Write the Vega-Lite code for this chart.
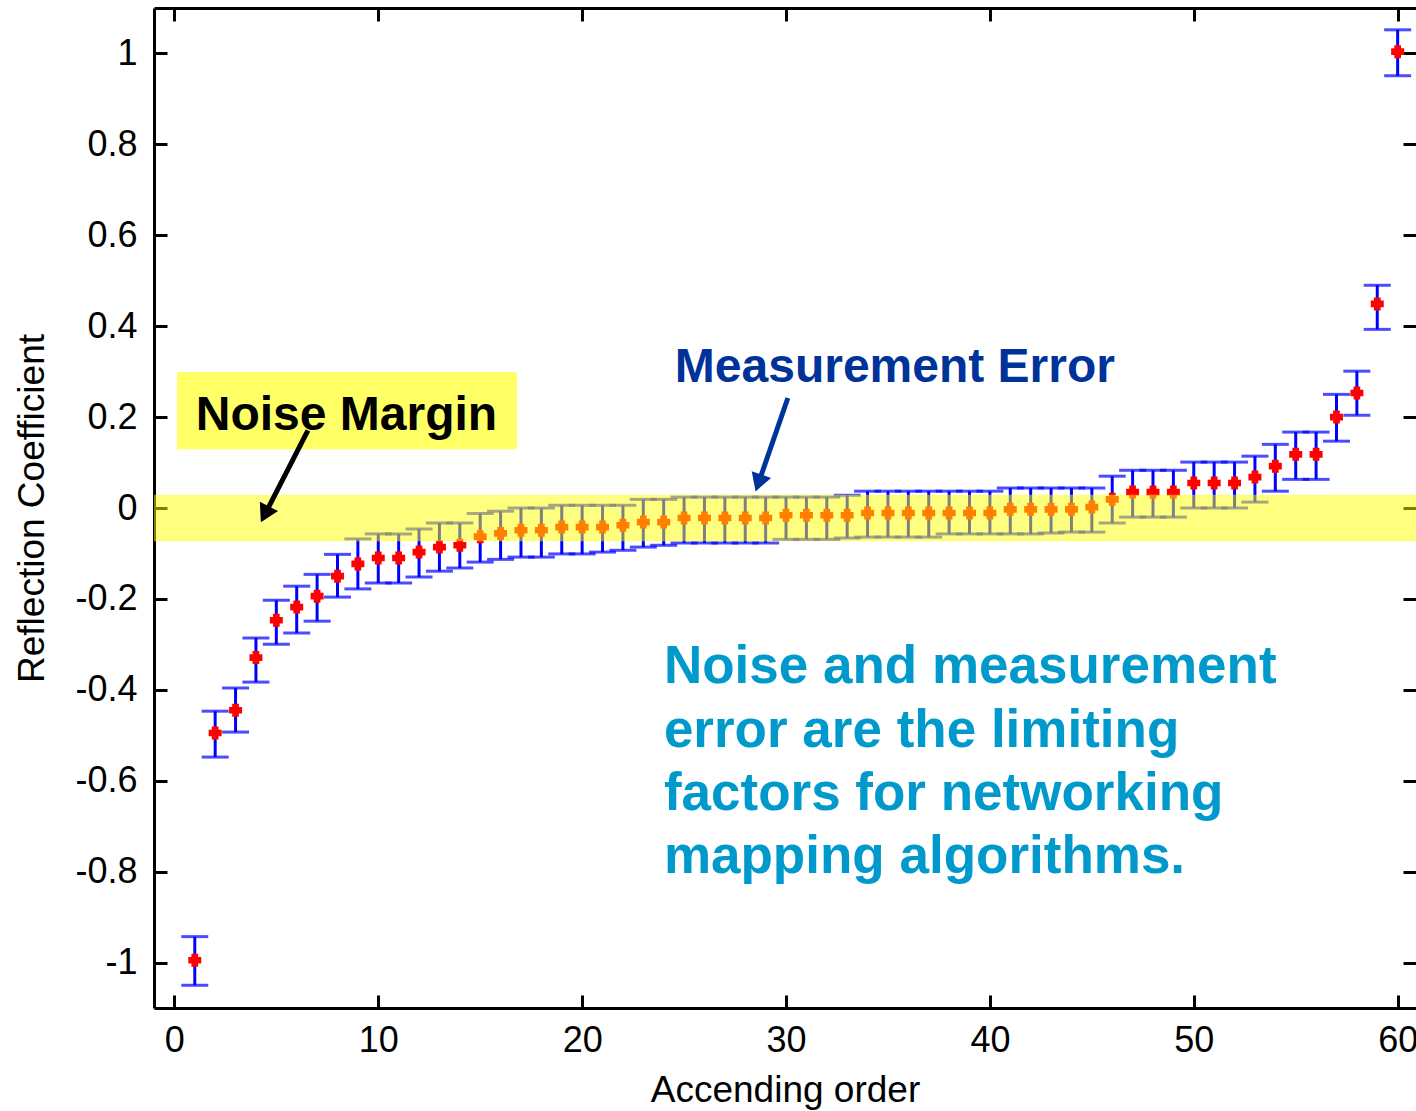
{
  "$schema": "https://vega.github.io/schema/vega-lite/v6.json",
  "width": 1262,
  "height": 1000,
  "autosize": {"type": "none"},
  "padding": {"left": 154, "top": 8, "right": 0, "bottom": 103},
  "background": "white",
  "config": {
    "view": {"stroke": null},
    "font": "Liberation Sans",
    "axis": {
      "domainColor": "black", "domainWidth": 3, "tickColor": "black", "tickWidth": 3,
      "tickSize": -13, "grid": false, "labelColor": "black", "labelFontSize": 36,
      "labelFont": "Liberation Sans", "titleFont": "Liberation Sans", "titleFontWeight": "normal",
      "titleFontSize": 37, "titleColor": "black"
    }
  },
  "data": {"values": [
    {"x": 1, "y": -0.995, "lo": -1.050, "hi": -0.943},
    {"x": 2, "y": -0.495, "lo": -0.548, "hi": -0.447},
    {"x": 3, "y": -0.445, "lo": -0.493, "hi": -0.396},
    {"x": 4, "y": -0.329, "lo": -0.383, "hi": -0.286},
    {"x": 5, "y": -0.247, "lo": -0.300, "hi": -0.203},
    {"x": 6, "y": -0.218, "lo": -0.275, "hi": -0.172},
    {"x": 7, "y": -0.194, "lo": -0.249, "hi": -0.146},
    {"x": 8, "y": -0.150, "lo": -0.196, "hi": -0.102},
    {"x": 9, "y": -0.123, "lo": -0.178, "hi": -0.068},
    {"x": 10, "y": -0.110, "lo": -0.165, "hi": -0.057},
    {"x": 11, "y": -0.110, "lo": -0.165, "hi": -0.057},
    {"x": 12, "y": -0.097, "lo": -0.152, "hi": -0.046},
    {"x": 13, "y": -0.086, "lo": -0.139, "hi": -0.033},
    {"x": 14, "y": -0.082, "lo": -0.132, "hi": -0.033},
    {"x": 15, "y": -0.063, "lo": -0.119, "hi": -0.012},
    {"x": 16, "y": -0.056, "lo": -0.113, "hi": -0.007},
    {"x": 17, "y": -0.049, "lo": -0.108, "hi": 0.000},
    {"x": 18, "y": -0.049, "lo": -0.108, "hi": 0.000},
    {"x": 19, "y": -0.042, "lo": -0.101, "hi": 0.006},
    {"x": 20, "y": -0.042, "lo": -0.101, "hi": 0.006},
    {"x": 21, "y": -0.042, "lo": -0.097, "hi": 0.006},
    {"x": 22, "y": -0.038, "lo": -0.093, "hi": 0.006},
    {"x": 23, "y": -0.031, "lo": -0.086, "hi": 0.019},
    {"x": 24, "y": -0.031, "lo": -0.082, "hi": 0.019},
    {"x": 25, "y": -0.022, "lo": -0.077, "hi": 0.024},
    {"x": 26, "y": -0.022, "lo": -0.077, "hi": 0.024},
    {"x": 27, "y": -0.022, "lo": -0.077, "hi": 0.024},
    {"x": 28, "y": -0.022, "lo": -0.077, "hi": 0.024},
    {"x": 29, "y": -0.022, "lo": -0.077, "hi": 0.024},
    {"x": 30, "y": -0.016, "lo": -0.069, "hi": 0.024},
    {"x": 31, "y": -0.016, "lo": -0.069, "hi": 0.024},
    {"x": 32, "y": -0.016, "lo": -0.069, "hi": 0.024},
    {"x": 33, "y": -0.016, "lo": -0.066, "hi": 0.028},
    {"x": 34, "y": -0.011, "lo": -0.064, "hi": 0.037},
    {"x": 35, "y": -0.011, "lo": -0.064, "hi": 0.037},
    {"x": 36, "y": -0.011, "lo": -0.064, "hi": 0.037},
    {"x": 37, "y": -0.011, "lo": -0.064, "hi": 0.037},
    {"x": 38, "y": -0.011, "lo": -0.057, "hi": 0.037},
    {"x": 39, "y": -0.011, "lo": -0.057, "hi": 0.037},
    {"x": 40, "y": -0.011, "lo": -0.057, "hi": 0.037},
    {"x": 41, "y": -0.003, "lo": -0.057, "hi": 0.044},
    {"x": 42, "y": -0.003, "lo": -0.057, "hi": 0.044},
    {"x": 43, "y": -0.003, "lo": -0.055, "hi": 0.044},
    {"x": 44, "y": -0.003, "lo": -0.053, "hi": 0.044},
    {"x": 45, "y": 0.002, "lo": -0.053, "hi": 0.044},
    {"x": 46, "y": 0.019, "lo": -0.033, "hi": 0.070},
    {"x": 47, "y": 0.035, "lo": -0.020, "hi": 0.083},
    {"x": 48, "y": 0.035, "lo": -0.020, "hi": 0.083},
    {"x": 49, "y": 0.035, "lo": -0.020, "hi": 0.083},
    {"x": 50, "y": 0.055, "lo": 0.000, "hi": 0.101},
    {"x": 51, "y": 0.055, "lo": 0.000, "hi": 0.101},
    {"x": 52, "y": 0.055, "lo": 0.000, "hi": 0.101},
    {"x": 53, "y": 0.068, "lo": 0.013, "hi": 0.114},
    {"x": 54, "y": 0.092, "lo": 0.037, "hi": 0.140},
    {"x": 55, "y": 0.118, "lo": 0.063, "hi": 0.167},
    {"x": 56, "y": 0.118, "lo": 0.063, "hi": 0.167},
    {"x": 57, "y": 0.200, "lo": 0.147, "hi": 0.250},
    {"x": 58, "y": 0.253, "lo": 0.204, "hi": 0.301},
    {"x": 59, "y": 0.449, "lo": 0.393, "hi": 0.490},
    {"x": 60, "y": 1.004, "lo": 0.951, "hi": 1.052}
  ]},
  "resolve": {"axis": {"x": "independent", "y": "independent"}},
  "layer": [
    {
      "mark": {"type": "rule", "color": "#0000FF", "strokeWidth": 3},
      "encoding": {
        "x": {"field": "x", "type": "quantitative",
          "scale": {"domain": [-1, 60.9], "nice": false, "zero": false},
          "axis": {"orient": "bottom", "title": "Accending order", "values": [0, 10, 20, 30, 40, 50, 60],
            "labelPadding": 28, "titlePadding": 14}},
        "y": {"field": "lo", "type": "quantitative",
          "scale": {"domain": [-1.1, 1.1], "nice": false, "zero": false},
          "axis": {"orient": "left", "title": "Reflection Coefficient",
            "values": [-1, -0.8, -0.6, -0.4, -0.2, 0, 0.2, 0.4, 0.6, 0.8, 1],
            "labelExpr": "replace(format(datum.value, '~g'), '\u2212', '-')", "labelPadding": 30, "titlePadding": 23}},
        "y2": {"field": "hi"}
      }
    },
    {
      "mark": {"type": "tick", "orient": "horizontal", "color": "#0000FF", "size": 27, "thickness": 3},
      "encoding": {
        "x": {"field": "x", "type": "quantitative", "axis": null},
        "y": {"field": "lo", "type": "quantitative", "axis": null}
      }
    },
    {
      "mark": {"type": "tick", "orient": "horizontal", "color": "#0000FF", "size": 27, "thickness": 3},
      "encoding": {
        "x": {"field": "x", "type": "quantitative", "axis": null},
        "y": {"field": "hi", "type": "quantitative", "axis": null}
      }
    },
    {
      "mark": {"type": "point", "shape": "cross", "filled": true, "color": "#FF0000", "stroke": "#FF0000", "strokeWidth": 2.5, "size": 110, "opacity": 1},
      "encoding": {
        "x": {"field": "x", "type": "quantitative",
          "axis": {"orient": "top", "labels": false, "title": null, "values": [0, 10, 20, 30, 40, 50, 60]}},
        "y": {"field": "y", "type": "quantitative",
          "axis": {"orient": "right", "labels": false, "title": null, "domain": false,
            "values": [-1, -0.8, -0.6, -0.4, -0.2, 0, 0.2, 0.4, 0.6, 0.8, 1]}}
      }
    },
    {
      "data": {"values": [{"lo": -0.073, "hi": 0.029}]},
      "mark": {"type": "rect", "color": "#FFFF00", "opacity": 0.5},
      "encoding": {
        "y": {"field": "lo", "type": "quantitative", "axis": null},
        "y2": {"field": "hi"}
      }
    },
    {
      "data": {"values": [{"x1": 0.13, "x2": 16.8, "y1": 0.129, "y2": 0.299}]},
      "mark": {"type": "rect", "color": "#FFFF66"},
      "encoding": {
        "x": {"field": "x1", "type": "quantitative", "axis": null},
        "x2": {"field": "x2"},
        "y": {"field": "y1", "type": "quantitative", "axis": null},
        "y2": {"field": "y2"}
      }
    },
    {
      "data": {"values": [{"x": 8.44, "y": 0.171, "label": "Noise Margin"}]},
      "mark": {"type": "text", "font": "Liberation Sans", "fontWeight": "bold", "fontSize": 48,
        "color": "black", "align": "center", "baseline": "alphabetic"},
      "encoding": {
        "x": {"field": "x", "type": "quantitative", "axis": null},
        "y": {"field": "y", "type": "quantitative", "axis": null},
        "text": {"field": "label"}
      }
    },
    {
      "data": {"values": [{"x1": 6.55, "y1": 0.171, "x2": 4.44, "y2": -0.014}]},
      "mark": {"type": "rule", "color": "black", "strokeWidth": 5},
      "encoding": {
        "x": {"field": "x1", "type": "quantitative", "axis": null},
        "y": {"field": "y1", "type": "quantitative", "axis": null},
        "x2": {"field": "x2"}, "y2": {"field": "y2"}
      }
    },
    {
      "data": {"values": [{"x": 4.44, "y": -0.014}]},
      "mark": {"type": "point", "shape": "triangle-up", "filled": true, "color": "black", "opacity": 1, "size": 420, "angle": 207},
      "encoding": {
        "x": {"field": "x", "type": "quantitative", "axis": null},
        "y": {"field": "y", "type": "quantitative", "axis": null}
      }
    },
    {
      "data": {"values": [{"x": 35.34, "y": 0.277, "label": "Measurement Error"}]},
      "mark": {"type": "text", "font": "Liberation Sans", "fontWeight": "bold", "fontSize": 48,
        "color": "#003399", "align": "center", "baseline": "alphabetic"},
      "encoding": {
        "x": {"field": "x", "type": "quantitative", "axis": null},
        "y": {"field": "y", "type": "quantitative", "axis": null},
        "text": {"field": "label"}
      }
    },
    {
      "data": {"values": [{"x1": 30.09, "y1": 0.242, "x2": 28.65, "y2": 0.055}]},
      "mark": {"type": "rule", "color": "#003399", "strokeWidth": 5},
      "encoding": {
        "x": {"field": "x1", "type": "quantitative", "axis": null},
        "y": {"field": "y1", "type": "quantitative", "axis": null},
        "x2": {"field": "x2"}, "y2": {"field": "y2"}
      }
    },
    {
      "data": {"values": [{"x": 28.65, "y": 0.055}]},
      "mark": {"type": "point", "shape": "triangle-up", "filled": true, "color": "#003399", "opacity": 1, "size": 420, "angle": 199},
      "encoding": {
        "x": {"field": "x", "type": "quantitative", "axis": null},
        "y": {"field": "y", "type": "quantitative", "axis": null}
      }
    },
    {
      "data": {"values": [
        {"x": 24.01, "y": -0.385, "label": "Noise and measurement"},
        {"x": 24.01, "y": -0.526, "label": "error are the limiting"},
        {"x": 24.01, "y": -0.664, "label": "factors for networking"},
        {"x": 24.01, "y": -0.803, "label": "mapping algorithms."}
      ]},
      "mark": {"type": "text", "font": "Liberation Sans", "fontWeight": "bold", "fontSize": 53,
        "color": "#0099CC", "align": "left", "baseline": "alphabetic"},
      "encoding": {
        "x": {"field": "x", "type": "quantitative", "axis": null},
        "y": {"field": "y", "type": "quantitative", "axis": null},
        "text": {"field": "label"}
      }
    }
  ]
}
